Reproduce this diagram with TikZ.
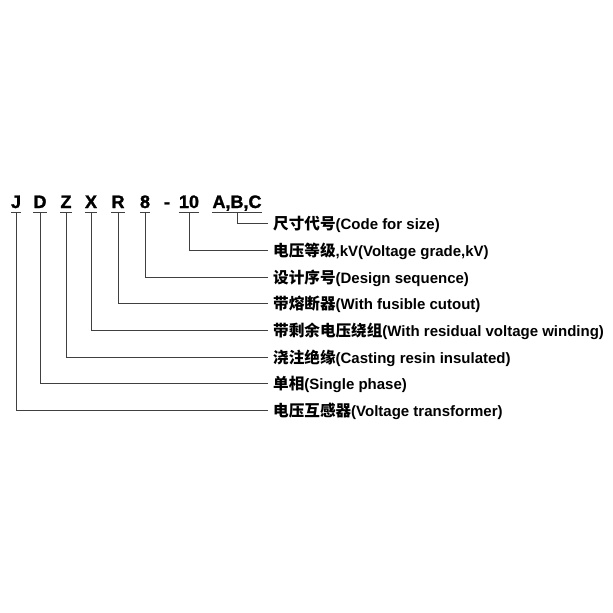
\documentclass[tikz,border=0pt]{standalone}
\usepackage{fontspec}
\setmainfont{Liberation Sans}
\newfontfamily\cjk{Noto Sans CJK SC}[Scale=1.04]
\newfontfamily\codefont{Liberation Sans}[BoldFeatures={FakeBold=1.5}]
\usetikzlibrary{positioning}

\begin{document}
\begin{tikzpicture} [
    x=1pt, y=-1pt,                  % one unit is one pixel of the sheet, y going down
    ]
% -------------------------------------------------
\tikzset{
  code/.style={font=\codefont\bfseries\fontsize{18}{18}\selectfont, anchor=base, inner xsep=0pt, inner ysep=4pt, text depth=0pt},
  desc/.style={font=\bfseries\fontsize{15}{15}\selectfont, anchor=west, inner xsep=5pt, inner ysep=0pt, text height=14pt, text depth=2pt},
  line/.style={draw, line width=0.8pt, black!75},
  uline/.style={draw, line width=0.8pt, black!75}
}

    \useasboundingbox (0,0) rectangle (613,613);                    % sheet size

    \node [code] (J)    at (16,208)  {J};
    \node [code] (D)    at (40,208)  {D};
    \node [code] (Z)    at (66,208)  {Z};
    \node [code] (X)    at (91,208)  {X};
    \node [code] (R)    at (118,208) {R};
    \node [code] (n8)   at (145,208) {8};
    \node [code] (dash) at (167,208) {-};
    \node [code] (kv)   at (189,208) {10};
    \node [code] (abc)  at (237,208) {A,B,C};

    \node [desc] (tabc) at (268,223) {{\cjk 尺寸代号}(Code for size)};
    \node [desc] (tkv)  at (268,250) {{\cjk 电压等级},kV(Voltage grade,kV)};
    \node [desc] (tn8)  at (268,277) {{\cjk 设计序号}(Design sequence)};
    \node [desc] (tR)   at (268,303) {{\cjk 带熔断器}(With fusible cutout)};
    \node [desc] (tX)   at (268,330) {{\cjk 带剩余电压绕组}(With residual voltage winding)};
    \node [desc] (tZ)   at (268,357) {{\cjk 浇注绝缘}(Casting resin insulated)};
    \node [desc] (tD)   at (268,383) {{\cjk 单相}(Single phase)};
    \node [desc] (tJ)   at (268,410) {{\cjk 电压互感器}(Voltage transformer)};

    % short bars under the code letters
    \path [uline] (J.south west) -- (J.south east);
    \path [uline] (D.south west) -- (D.south east);
    \path [uline] (Z.south west) -- (Z.south east);
    \path [uline] (X.south west) -- (X.south east);
    \path [uline] (R.south west) -- (R.south east);
    \path [uline] (n8.south west) -- (n8.south east);
    \path [uline] (kv.south west) -- (kv.south east);
    \path [uline] (abc.south west) -- (abc.south east);

    \path [line] (abc.south) |- (tabc.west);
    \path [line] (kv.south) |- (tkv.west);
    \path [line] (n8.south) |- (tn8.west);
    \path [line] (R.south) |- (tR.west);
    \path [line] (X.south) |- (tX.west);
    \path [line] (Z.south) |- (tZ.west);
    \path [line] (D.south) |- (tD.west);
    \path [line] (J.south) |- (tJ.west);

\end{tikzpicture}
\end{document}
